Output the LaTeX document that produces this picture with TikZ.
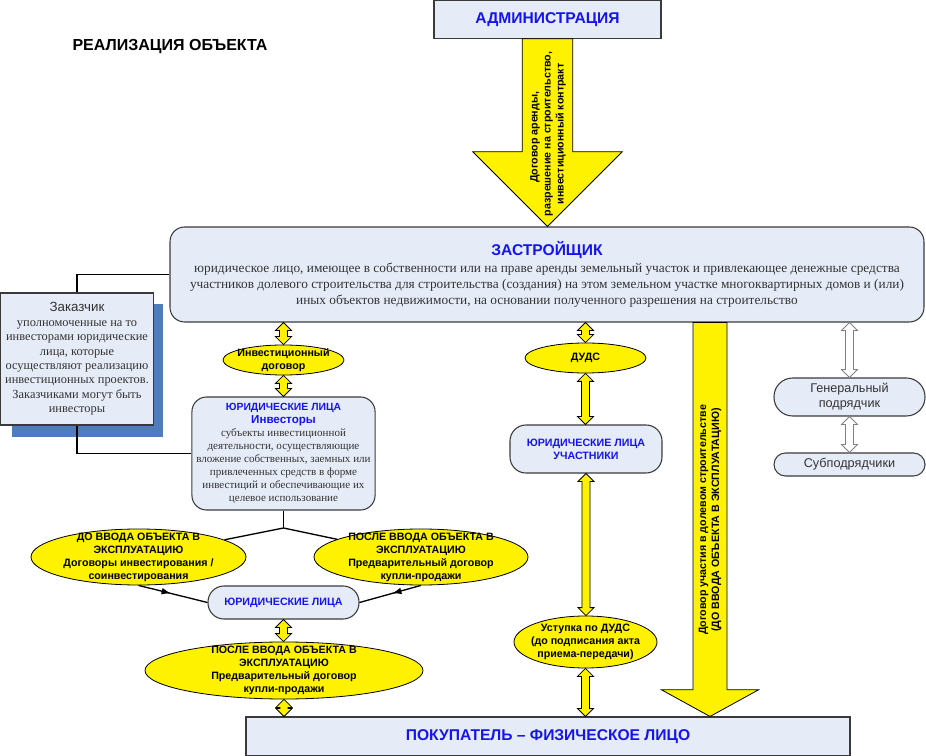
\documentclass[tikz,border=0pt]{standalone}
\usepackage{fontspec}
\setmainfont{Liberation Serif}
\setsansfont{Liberation Sans}
\usetikzlibrary{shapes.geometric,decorations.markings,arrows.meta,calc}
\definecolor{boxfill}{HTML}{E6ECF7}
\definecolor{boxline}{HTML}{3A3A3A}
\definecolor{titleblue}{HTML}{1414F0}
\definecolor{shadowblue}{HTML}{4F7BBF}
\newcommand\ttlfont{\sffamily\bfseries\fontsize{11.7}{14}\selectfont\color{titleblue}}
% fat double arrow between two points on one vertical
\newcommand\dblarr[3][fill=yellow]{%
  \draw[#1, line width=0.6pt, line join=miter] let \p1=(#2), \p2=(#3) in
    (\x1,\y1) -- (\x1+6pt,\y1-6pt) -- (\x1+3pt,\y1-6pt) -- (\x1+3pt,\y2+6pt)
    -- (\x1+6pt,\y2+6pt) -- (\x1,\y2) -- (\x1-6pt,\y2+6pt) -- (\x1-3pt,\y2+6pt)
    -- (\x1-3pt,\y1-6pt) -- (\x1-6pt,\y1-6pt) -- cycle;}
\begin{document}
\begin{tikzpicture}[x=0.75pt,y=-0.75pt,
    box/.style={draw=boxline, fill=boxfill, line width=0.8pt},
    yell/.style={ellipse, draw=black, fill=yellow, line width=0.6pt, inner sep=0pt},
    smallb/.style={font=\sffamily\bfseries\fontsize{8}{9.75}\selectfont, align=center},
    midarr/.style={postaction={decorate}, decoration={markings,
      mark=at position 0.47 with {\arrow{Latex[length=7pt,width=5pt]}}}}]
	\useasboundingbox (0,0) rectangle (926,756);
	\node[font=\sffamily\bfseries\fontsize{12}{14}\selectfont] (title) at (170,47) {РЕАЛИЗАЦИЯ ОБЪЕКТА};
	% top row
	\node[box, minimum width=170.25pt, minimum height=28.5pt, font=\ttlfont] (admin) at (547.5,19.25) {АДМИНИСТРАЦИЯ};
	\node[box, rounded corners=11pt, minimum width=565.5pt, minimum height=71.25pt, align=center,
	  font=\rmfamily\fontsize{10}{12}\selectfont, text=black!80] (zastr) at (547,274.5)
	  {{\ttlfont ЗАСТРОЙЩИК}\\[1pt]
	   юридическое лицо, имеющее в собственности или на праве аренды земельный участок и привлекающее денежные средства\\
	   участников долевого строительства для строительства (создания) на этом земельном участке многоквартирных домов и (или)\\
	   иных объектов недвижимости, на основании полученного разрешения на строительство};
	\draw[fill=yellow, line width=0.6pt] let \p1=(admin.south), \p2=(zastr.north) in
	  (\x1-19pt,\y1) -- (\x1-19pt,\y2+56pt) -- (\x1-56pt,\y2+56pt) -- (\x1,\y2)
	  -- (\x1+56pt,\y2+56pt) -- (\x1+19pt,\y2+56pt) -- (\x1+19pt,\y1) -- cycle;
	\node[rotate=90, smallb] (admtxt) at (548,134) {Договор аренды,\hspace*{5pt}\\ разрешение на строительство,\\ инвестиционный контракт};
	% zakazchik
	\fill[shadowblue] (12,304) rectangle (163,437);
	\node[draw=boxline, fill=boxfill, line width=0.8pt, minimum width=112.5pt, minimum height=99pt, align=center,
	  font=\rmfamily\fontsize{9.3}{10.8}\selectfont, text=black!80] (zak) at (77,359)
	  {{\sffamily\fontsize{10}{12}\selectfont Заказчик}\\ уполномоченные на то\\ инвесторами юридические\\ лица, которые\\
	   осуществляют реализацию\\ инвестиционных проектов.\\ Заказчиками могут быть\\ инвесторы};
	% investors column
	\node[yell, minimum width=90.75pt, minimum height=22.5pt] (invdog) at (283.5,360) {};
	\node[smallb] (invdogtxt) at (invdog) {Инвестиционный\\договор};
	\node[box, rounded corners=11pt, minimum width=135.75pt, minimum height=84.75pt, align=center,
	  font=\rmfamily\fontsize{8.3}{9.75}\selectfont, text=black!80] (invest) at (283.5,453.5)
	  {{\sffamily\bfseries\fontsize{7.8}{9.75}\selectfont\color{titleblue}ЮРИДИЧЕСКИЕ ЛИЦА}\\
	   {\sffamily\bfseries\fontsize{8.7}{9.75}\selectfont\color{titleblue}Инвесторы}\\
	   субъекты инвестиционной\\ деятельности, осуществляющие\\ вложение собственных, заемных или\\
	   привлеченных средств в форме\\ инвестиций и обеспечивающие их\\ целевое использование};
	\draw[line width=1pt] (zak.north) |- (zastr.west);
	\draw[line width=1pt] (zak.south) |- (invest.west);
	\node[yell, minimum width=161.25pt, minimum height=42pt] (dovl) at (138.5,557) {};
	\node[smallb] (dovltxt) at (dovl) {ДО ВВОДА ОБЪЕКТА В\\ЭКСПЛУАТАЦИЮ\\Договоры инвестирования /\\соинвестирования};
	\node[yell, minimum width=160.5pt, minimum height=42pt] (dovr) at (421,557) {};
	\node[smallb] (dovrtxt) at (dovr) {ПОСЛЕ ВВОДА ОБЪЕКТА В\\ЭКСПЛУАТАЦИЮ\\Предварительный договор\\купли-продажи};
	\coordinate (split) at (283.5,528);
	\draw[line width=1pt] (invest.south) -- (split);
	\draw[line width=1pt] (split) -- (dovl);
	\draw[line width=1pt] (split) -- (dovr);
	\node[box, rounded corners=12pt, minimum width=113.25pt, minimum height=24.75pt, smallb, text=titleblue] (yul) at (283.5,602.5) {ЮРИДИЧЕСКИЕ ЛИЦА};
	\draw[line width=1pt, midarr] (dovl.south) -- (yul.west);
	\draw[line width=1pt, midarr] (dovr.south) -- (yul.east);
	\node[yell, minimum width=208.5pt, minimum height=42.75pt] (posle) at (284,670.5) {};
	\node[smallb] (posletxt) at (posle) {ПОСЛЕ ВВОДА ОБЪЕКТА В\\ЭКСПЛУАТАЦИЮ\\Предварительный договор\\купли-продажи};
	% duds column
	\node[yell, minimum width=90.75pt, minimum height=22.5pt] (duds) at (585.5,358) {};
	\node[smallb] (dudstxt) at (duds) {ДУДС};
	\node[box, rounded corners=12pt, minimum width=114pt, minimum height=36pt, smallb, text=titleblue] (uchast) at (586,449) {ЮРИДИЧЕСКИЕ ЛИЦА\\УЧАСТНИКИ};
	\node[yell, minimum width=107.25pt, minimum height=39pt] (ustup) at (585.5,642) {};
	\node[smallb] (ustuptxt) at (ustup) {Уступка по ДУДС\\(до подписания акта\\приема-передачи)};
	% contractors
	\node[box, rounded corners=14pt, minimum width=113.25pt, minimum height=28.5pt, align=center,
	  font=\sffamily\fontsize{9.5}{11.3}\selectfont, text=black!80] (gen) at (849.5,397) {Генеральный\\подрядчик};
	\node[box, rounded corners=8.6pt, minimum width=113.25pt, minimum height=17.25pt,
	  font=\sffamily\fontsize{9.5}{11.3}\selectfont, text=black!80] (sub) at (849.5,464.5) {Субподрядчики};
	% buyer
	\node[box, minimum width=453pt, minimum height=29.25pt, font=\ttlfont] (pokup) at (548,736.5) {ПОКУПАТЕЛЬ – ФИЗИЧЕСКОЕ ЛИЦО};
	\coordinate (ddu) at (710,0);
	\draw[fill=yellow, line width=0.6pt] let \p1=(ddu |- zastr.south), \p2=(ddu |- pokup.north) in
	  (\x1-12.75pt,\y1) -- (\x1-12.75pt,\y2+20pt) -- (\x1-36.4pt,\y2+20pt) -- (\x1,\y2)
	  -- (\x1+36.4pt,\y2+20pt) -- (\x1+12.75pt,\y2+20pt) -- (\x1+12.75pt,\y1) -- cycle;
	\node[rotate=90, smallb] (ddutxt) at (710,520) {Договор участия в долевом строительстве\\(ДО ВВОДА ОБЪЕКТА В ЭКСПЛУАТАЦИЮ)};
	% double arrows
	\dblarr{invdog.north |- zastr.south}{invdog.north}
	\dblarr{invdog.south}{invest.north}
	\dblarr{yul.south}{posle.north}
	\dblarr{posle.south}{posle.south |- pokup.north}
	\dblarr{duds.north |- zastr.south}{duds.north}
	\dblarr{duds.south}{uchast.north}
	\dblarr{uchast.south}{ustup.north}
	\dblarr{ustup.south}{ustup.south |- pokup.north}
	\dblarr[fill=white, draw=gray]{gen.north |- zastr.south}{gen.north}
	\dblarr[fill=white, draw=gray]{gen.south}{sub.north}
\end{tikzpicture}
\end{document}
